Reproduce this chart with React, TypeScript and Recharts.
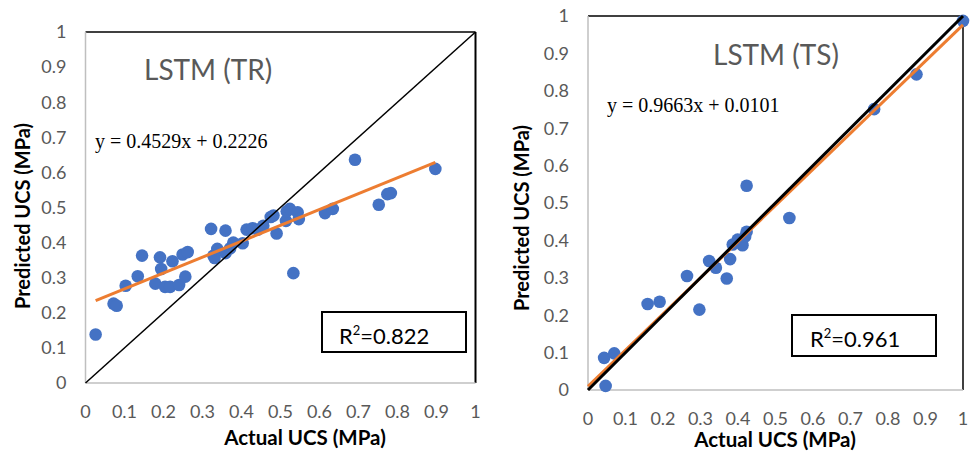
import React from 'react';
import { ScatterChart, Scatter, XAxis, YAxis, ReferenceLine } from 'recharts';

// training set: actual vs predicted UCS (normalised)
const trActual = [
  0.026, 0.072, 0.080, 0.103, 0.134, 0.145, 0.179, 0.191, 0.194, 0.204, 0.217, 0.223, 0.240, 0.249, 0.256,
  0.262, 0.322, 0.328, 0.331, 0.338, 0.359, 0.359, 0.371, 0.379, 0.403, 0.413, 0.428, 0.442, 0.456, 0.475,
  0.482, 0.490, 0.514, 0.516, 0.524, 0.533, 0.544, 0.547, 0.614, 0.634, 0.691, 0.752, 0.774, 0.783, 0.897,
];
const trPredicted = [
  0.138, 0.226, 0.220, 0.277, 0.304, 0.363, 0.283, 0.358, 0.325, 0.274, 0.274, 0.347, 0.279, 0.366, 0.303,
  0.373, 0.439, 0.363, 0.356, 0.382, 0.434, 0.370, 0.384, 0.400, 0.398, 0.437, 0.441, 0.437, 0.448, 0.473,
  0.477, 0.426, 0.462, 0.489, 0.496, 0.313, 0.486, 0.467, 0.484, 0.496, 0.636, 0.508, 0.538, 0.541, 0.610,
];

// testing set
const tsActual = [
  0.043, 0.047, 0.070, 0.159, 0.191, 0.264, 0.297, 0.323, 0.341, 0.370, 0.379, 0.386, 0.399, 0.412, 0.419,
  0.423, 0.423, 0.537, 0.763, 0.876, 1.0,
];
const tsPredicted = [
  0.086, 0.011, 0.098, 0.230, 0.236, 0.305, 0.215, 0.345, 0.327, 0.298, 0.350, 0.389, 0.402, 0.387, 0.410,
  0.423, 0.546, 0.460, 0.751, 0.844, 0.987,
];

// fitted trend lines (slope, intercept) and the x range they are drawn over
const trFit = { slope: 0.4529, intercept: 0.2226, from: 0.026, to: 0.897 };
const tsFit = { slope: 0.9663, intercept: 0.0101, from: 0, to: 1 };

const ticks = [0, 0.1, 0.2, 0.3, 0.4, 0.5, 0.6, 0.7, 0.8, 0.9, 1];

const BLUE = '#4472C4';
const ORANGE = '#ED7D31';
const AXIS_GREY = '#BFBFBF';
const TICK_GREY = '#595959';
const SANS = 'Lato, "Open Sans", sans-serif';
const SERIF = '"Liberation Serif", serif';

const toPoints = (xs: number[], ys: number[]) => xs.map((x, i) => ({ x, y: ys[i] }));
const fitLine = (f: { slope: number; intercept: number; from: number; to: number }) => [
  { x: f.from, y: f.slope * f.from + f.intercept },
  { x: f.to, y: f.slope * f.to + f.intercept },
];
const identity = [{ x: 0, y: 0 }, { x: 1, y: 1 }];

const Dot = (p: any) => <circle cx={p.cx} cy={p.cy} r={6.3} fill={BLUE} />;
const NoDot = () => <g />;

type PanelProps = {
  left: number;
  width: number;
  margin: { top: number; right: number; bottom: number; left: number };
  points: { x: number; y: number }[];
  fit: { x: number; y: number }[];
  diagWidth: number;
  borderWidth: number;
};

const Panel = ({ left, width, margin, points, fit, diagWidth, borderWidth }: PanelProps) => (
  <div style={{ position: 'absolute', left, top: 0 }}>
    <ScatterChart width={width} height={453} margin={margin}>
      <XAxis
        type="number"
        dataKey="x"
        domain={[0, 1]}
        ticks={ticks}
        interval={0}
        height={30}
        tickLine={false}
        tickMargin={16}
        axisLine={{ stroke: AXIS_GREY, strokeWidth: 1.5 }}
        tick={{ fill: TICK_GREY, fontSize: 18, fontFamily: SANS }}
        tickFormatter={(v) => String(v)}
      />
      <YAxis
        type="number"
        dataKey="y"
        domain={[0, 1]}
        ticks={ticks}
        interval={0}
        width={40}
        tickLine={false}
        tickMargin={13}
        axisLine={{ stroke: AXIS_GREY, strokeWidth: 1.5 }}
        tick={{ fill: TICK_GREY, fontSize: 18, fontFamily: SANS }}
        tickFormatter={(v) => String(v)}
      />
      <ReferenceLine y={1} stroke="#000" strokeWidth={1.5} />
      <ReferenceLine x={1} stroke="#000" strokeWidth={borderWidth} />
      <Scatter data={points} shape={Dot} isAnimationActive={false} />
      <Scatter data={fit} line={{ stroke: ORANGE, strokeWidth: 3 }} shape={NoDot} isAnimationActive={false} />
      <Scatter data={identity} line={{ stroke: '#000', strokeWidth: diagWidth }} shape={NoDot} isAnimationActive={false} />
    </ScatterChart>
  </div>
);

export default function App() {
  return (
    <div style={{ position: 'fixed', left: 0, top: 0, width: 979, height: 453, background: '#fff', fontFamily: SANS }}>
      <Panel
        left={0}
        width={490}
        margin={{ top: 32, right: 14.5, bottom: 40, left: 45.5 }}
        points={toPoints(trActual, trPredicted)}
        fit={fitLine(trFit)}
        diagWidth={1.5}
        borderWidth={2}
      />
      <Panel
        left={490}
        width={489}
        margin={{ top: 16, right: 16, bottom: 33, left: 58 }}
        points={toPoints(tsActual, tsPredicted)}
        fit={fitLine(tsFit)}
        diagWidth={3}
        borderWidth={1.5}
      />
      <svg width={979} height={453} style={{ position: 'absolute', left: 0, top: 0, pointerEvents: 'none' }}>
        {/* titles */}
        <text x={144} y={80} fontSize={28} fill={TICK_GREY} fontFamily={SANS}>LSTM (TR)</text>
        <text x={713} y={65} fontSize={28} fill={TICK_GREY} fontFamily={SANS}>LSTM (TS)</text>
        {/* regression equations */}
        <text x={95} y={148} fontSize={20} fill="#000" fontFamily={SERIF}>y = 0.4529x + 0.2226</text>
        <text x={607} y={112} fontSize={20} fill="#000" fontFamily={SERIF}>y = 0.9663x + 0.0101</text>
        {/* R² boxes */}
        <rect x={322} y={312} width={144} height={40} fill="#fff" stroke="#000" strokeWidth={2} />
        <text x={339} y={344} fontSize={22} fill="#000" fontFamily={SANS}>
          R<tspan fontSize={13} dy={-9}>2</tspan><tspan dy={9}>=0.822</tspan>
        </text>
        <rect x={792} y={315} width={144} height={41} fill="#fff" stroke="#000" strokeWidth={2} />
        <text x={810} y={347} fontSize={22} fill="#000" fontFamily={SANS}>
          R<tspan fontSize={13} dy={-9}>2</tspan><tspan dy={9}>=0.961</tspan>
        </text>
        {/* axis titles */}
        <text x={305} y={445} fontSize={20.5} fontWeight="bold" textAnchor="middle" fill="#000" fontFamily={SANS}>Actual UCS (MPa)</text>
        <text x={775} y={447} fontSize={20.5} fontWeight="bold" textAnchor="middle" fill="#000" fontFamily={SANS}>Actual UCS (MPa)</text>
        <text transform="translate(30,216) rotate(-90)" fontSize={20} fontWeight="bold" textAnchor="middle" fill="#000" fontFamily={SANS}>Predicted UCS (MPa)</text>
        <text transform="translate(529,218) rotate(-90)" fontSize={20} fontWeight="bold" textAnchor="middle" fill="#000" fontFamily={SANS}>Predicted UCS (MPa)</text>
      </svg>
    </div>
  );
}
